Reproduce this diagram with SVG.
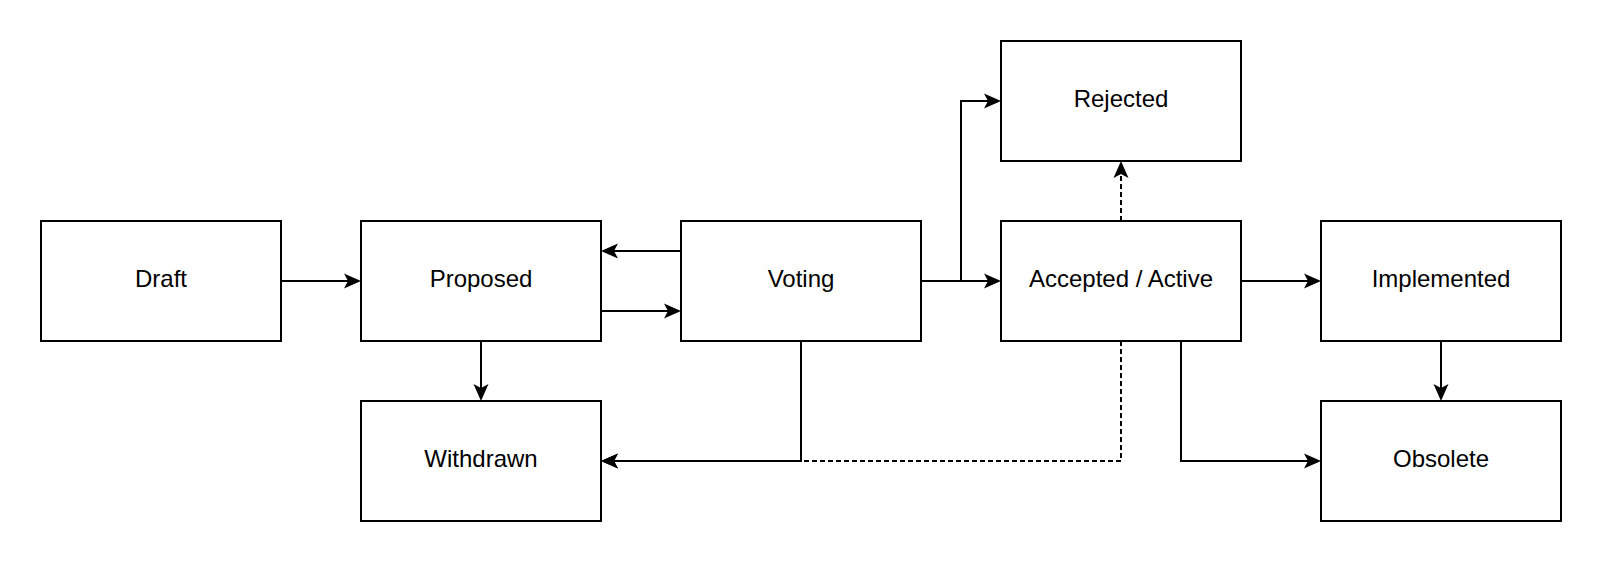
<svg xmlns="http://www.w3.org/2000/svg" width="1602" height="562" viewBox="0 0 1602 562">
<defs>
<style>
.box{fill:#fff;stroke:#000;stroke-width:2}
.lbl{font-family:"Liberation Sans",Arial,sans-serif;font-size:24px;fill:#000;text-anchor:middle}
.e{fill:none;stroke:#000;stroke-width:2;marker-end:url(#arr)}
.d{stroke-dasharray:5 3}
</style>
<marker id="arr" markerUnits="userSpaceOnUse" markerWidth="20" markerHeight="20" refX="4" refY="8" orient="auto" overflow="visible">
<path d="M0,0.5 L17,8 L0,15.5 L4,8 Z" fill="#000"/>
</marker>
</defs>
<rect width="1602" height="562" fill="#fff"/>
<g id="connectors">
<path class="e d" d="M1121,341 V461 H614"/>
<path class="e" d="M281,281 H348"/>
<path class="e" d="M681,251 H614"/>
<path class="e" d="M601,311 H668"/>
<path class="e" d="M921,281 H988"/>
<path class="e" d="M921,281 H961 V101 H988"/>
<path class="e d" d="M1121,221 V174"/>
<path class="e" d="M1241,281 H1308"/>
<path class="e" d="M1441,341 V388"/>
<path class="e" d="M481,341 V388"/>
<path class="e" d="M801,341 V461 H614"/>
<path class="e" d="M1181,341 V461 H1308"/>
</g>
<g id="draft"><rect class="box" x="41" y="221" width="240" height="120"/><text class="lbl" x="161" y="287">Draft</text></g>
<g id="proposed"><rect class="box" x="361" y="221" width="240" height="120"/><text class="lbl" x="481" y="287">Proposed</text></g>
<g id="voting"><rect class="box" x="681" y="221" width="240" height="120"/><text class="lbl" x="801" y="287">Voting</text></g>
<g id="accepted"><rect class="box" x="1001" y="221" width="240" height="120"/><text class="lbl" x="1121" y="287">Accepted / Active</text></g>
<g id="implemented"><rect class="box" x="1321" y="221" width="240" height="120"/><text class="lbl" x="1441" y="287">Implemented</text></g>
<g id="rejected"><rect class="box" x="1001" y="41" width="240" height="120"/><text class="lbl" x="1121" y="107">Rejected</text></g>
<g id="withdrawn"><rect class="box" x="361" y="401" width="240" height="120"/><text class="lbl" x="481" y="467">Withdrawn</text></g>
<g id="obsolete"><rect class="box" x="1321" y="401" width="240" height="120"/><text class="lbl" x="1441" y="467">Obsolete</text></g>
</svg>
